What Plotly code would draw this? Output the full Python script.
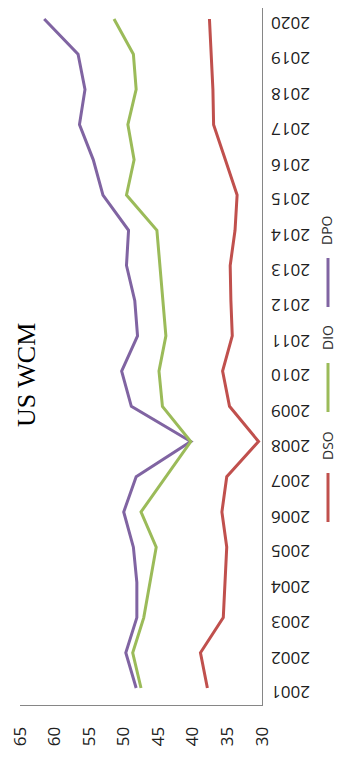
import plotly.graph_objects as go

years = list(range(2001, 2021))
dpo = [48.2, 49.7, 48.1, 48.1, 48.6, 50.0, 48.2, 40.3, 48.9, 50.3,
       48.0, 48.4, 49.6, 49.3, 53.0, 54.4, 56.4, 55.6, 56.6, 61.5]
dio = [47.5, 48.7, 47.1, 46.2, 45.3, 47.5, 43.9, 40.3, 44.4, 44.9,
       43.9, 44.3, 44.75, 45.2, 49.6, 48.5, 49.4, 48.2, 48.6, 51.4]
dso = [37.9, 38.9, 35.6, 35.3, 35.1, 35.8, 35.1, 30.5, 34.7, 35.7,
       34.3, 34.5, 34.6, 33.9, 33.6, 35.3, 37.0, 37.1, 37.3, 37.6]
year_labels = [str(y) for y in years]
value_ticks = [30, 35, 40, 45, 50, 55, 60, 65]
value_labels = [str(v) for v in value_ticks]
colors = {"DPO": "#8064A2", "DIO": "#9BBB59", "DSO": "#C0504D"}

OFF = 8  # page body margin
W, H = 337, 760 - 2 * OFF
ml, mt = 12, 0
mr = int(round(W - (262 - OFF)))
mb = H - (705 - OFF)
pw, ph = W - ml - mr, H - mt - mb

fig = go.Figure()
for name, vals in [("DPO", dpo), ("DIO", dio), ("DSO", dso)]:
    fig.add_trace(go.Scatter(x=vals, y=years, mode="lines", name=name,
                             line=dict(color=colors[name], width=3),
                             showlegend=False))

def px_x(x):  # page px -> paper
    return (x - OFF - ml) / pw

def px_y(y):
    return (H - mb - (y - OFF)) / ph

shapes = []
annotations = []
LEG_X = 327
legend_items = [("DPO", 230, 258, 307), ("DIO", 338, 363, 412), ("DSO", 446, 473, 522)]
for name, ty, l0, l1 in legend_items:
    shapes.append(dict(type="line", xref="paper", yref="paper",
                       x0=px_x(LEG_X + 1), x1=px_x(LEG_X + 1), y0=px_y(l0), y1=px_y(l1),
                       line=dict(color=colors[name], width=3)))
    annotations.append(dict(text=name, xref="paper", yref="paper",
                            x=px_x(LEG_X), y=px_y(ty), showarrow=False,
                            textangle=-90, xanchor="center", yanchor="middle",
                            font=dict(family="Open Sans", size=14, color="#303030")))

# year tick labels (rotated 180)
for y, lab in zip(years, year_labels):
    annotations.append(dict(text=lab, xref="paper", yref="y", x=px_x(312), y=y,
                            yshift=-5, showarrow=False, textangle=180,
                            xanchor="right", yanchor="middle",
                            font=dict(family="Open Sans", size=17, color="#202020")))

annotations.append(dict(text="US WCM", xref="paper", yref="paper",
                        x=px_x(26), y=px_y(375), showarrow=False, textangle=-90,
                        xanchor="center", yanchor="middle",
                        font=dict(family="Liberation Serif", size=26, color="#000000")))

# y range so that 2001 sits at page y 688 and 2020 at page y 19
step = (688 - 19) / 19.0
y_lo = 2001 - ((H - mb) - (688 - OFF)) / step
y_hi = 2020 + ((19 - OFF) - mt) / step

fig.update_layout(
    width=W, height=H,
    margin=dict(l=ml, r=mr, t=mt, b=mb, pad=0),
    paper_bgcolor="white", plot_bgcolor="white",
    shapes=shapes, annotations=annotations,
    xaxis=dict(range=[65, 30], tickvals=value_ticks, ticktext=value_labels,
               tickangle=-90, showgrid=False, zeroline=False,
               showline=True, linecolor="#868686", linewidth=1, ticks="",
               ticklabelstandoff=14, ticklabeloverflow="allow",
               tickfont=dict(family="Open Sans", size=17, color="#202020")),
    yaxis=dict(range=[y_lo, y_hi], tickvals=years, showticklabels=False,
               side="right", showgrid=False, zeroline=False,
               showline=True, linecolor="#868686", linewidth=1, ticks=""),
)

fig.write_html("out.html")
